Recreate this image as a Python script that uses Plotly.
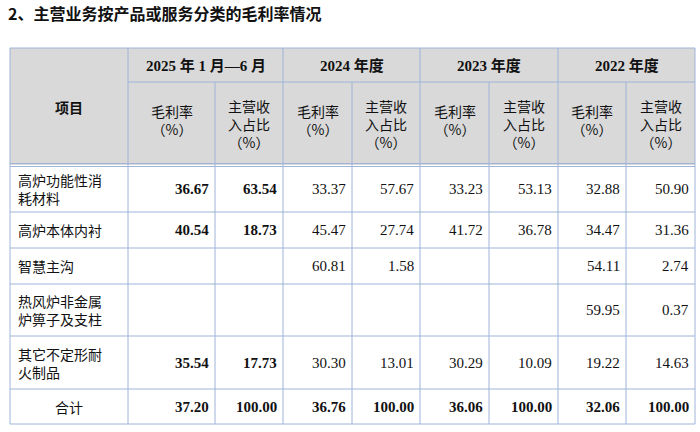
import plotly.graph_objects as go

title = "2、主营业务按产品或服务分类的毛利率情况"
periods = ["2025 年 1 月—6 月", "2024 年度", "2023 年度", "2022 年度"]
sub_headers = ["毛利率<br>（%）", "主营收<br>入占比<br>（%）"]
items = ["高炉功能性消<br>耗材料", "高炉本体内衬", "智慧主沟", "热风炉非金属<br>炉箅子及支柱", "其它不定形耐<br>火制品", "合计"]
values = [
    ["36.67", "63.54", "33.37", "57.67", "33.23", "53.13", "32.88", "50.90"],
    ["40.54", "18.73", "45.47", "27.74", "41.72", "36.78", "34.47", "31.36"],
    ["", "", "60.81", "1.58", "", "", "54.11", "2.74"],
    ["", "", "", "", "", "", "59.95", "0.37"],
    ["35.54", "17.73", "30.30", "13.01", "30.29", "10.09", "19.22", "14.63"],
    ["37.20", "100.00", "36.76", "100.00", "36.06", "100.00", "32.06", "100.00"],
]

xs = [10, 128, 215, 283, 352, 420, 489, 558, 626, 695]
y_top, y_mid, y_head = 48, 82, 165
row_y = [165, 212, 248, 284, 336, 389, 424]
border = "#9fb4d8"
cjk = "Noto Sans CJK SC"
serif = "Liberation Serif"

fig = go.Figure()
shapes, ann = [], []
shapes.append(dict(type="rect", x0=xs[0], x1=xs[-1], y0=y_top, y1=y_head, fillcolor="#d9d9d9", line_width=0, layer="below"))
def line(x0, y0, x1, y1, w=1):
    shapes.append(dict(type="line", x0=x0, y0=y0, x1=x1, y1=y1, line=dict(color=border, width=w)))
line(xs[0], y_top, xs[-1], y_top)
line(xs[1], y_mid, xs[-1], y_mid)
line(xs[0], y_head - 1.5, xs[-1], y_head - 1.5)
line(xs[0], y_head + 1.5, xs[-1], y_head + 1.5)
for y in row_y[1:]:
    line(xs[0], y, xs[-1], y)
for i, x in enumerate(xs):
    if i in (0, 1, 3, 5, 7, 9):
        line(x, y_top, x, row_y[-1])
    else:
        line(x, y_mid, x, row_y[-1])

def text(x, y, t, size=14, font=cjk, bold=False, xanchor="center", align="center"):
    ann.append(dict(x=x, y=y, text=f"<b>{t}</b>" if bold else t, showarrow=False, xanchor=xanchor, align=align,
                    yanchor="middle", font=dict(family=font, size=size, color="#111")))

ann.append(dict(x=6, y=13, text=f"<b>{title}</b>", showarrow=False, xanchor="left", yanchor="middle",
                font=dict(family=cjk, size=16, color="#111")))
text((xs[0] + xs[1]) / 2, (y_top + y_head) / 2, "<b>项目</b>")
for p, per in enumerate(periods):
    text((xs[1 + 2 * p] + xs[3 + 2 * p]) / 2, (y_top + y_mid) / 2, per, size=15, font=serif + ", " + cjk, bold=True)
    for s in range(2):
        text((xs[1 + 2 * p + s] + xs[2 + 2 * p + s]) / 2, (y_mid + y_head) / 2 + (0 if s else -4), sub_headers[s])
for r, it in enumerate(items):
    yc = (row_y[r] + row_y[r + 1]) / 2
    if it == "合计":
        text((xs[0] + xs[1]) / 2, yc, it)
    else:
        text(xs[0] + 6, yc, it, xanchor="left", align="left")
    for c, v in enumerate(values[r]):
        bold = c < 2 or r == len(items) - 1
        if v:
            text(xs[c + 2] - 4, yc, v, size=15, font=serif, bold=bold, xanchor="right", align="right")

fig.update_layout(width=700, height=432, margin=dict(l=0, r=0, t=0, b=0), plot_bgcolor="white", paper_bgcolor="white",
                  shapes=shapes, annotations=ann,
                  xaxis=dict(range=[0, 700], visible=False, fixedrange=True),
                  yaxis=dict(range=[432, 0], visible=False, fixedrange=True), showlegend=False)
fig.write_html("out.html", config={"displayModeBar": False})
with open("out.html", encoding="utf-8") as f:
    html = f.read()
html = html.replace("<head>", "<head><style>html,body{margin:0;padding:0;overflow:hidden}</style>", 1)
with open("out.html", "w", encoding="utf-8") as f:
    f.write(html)
